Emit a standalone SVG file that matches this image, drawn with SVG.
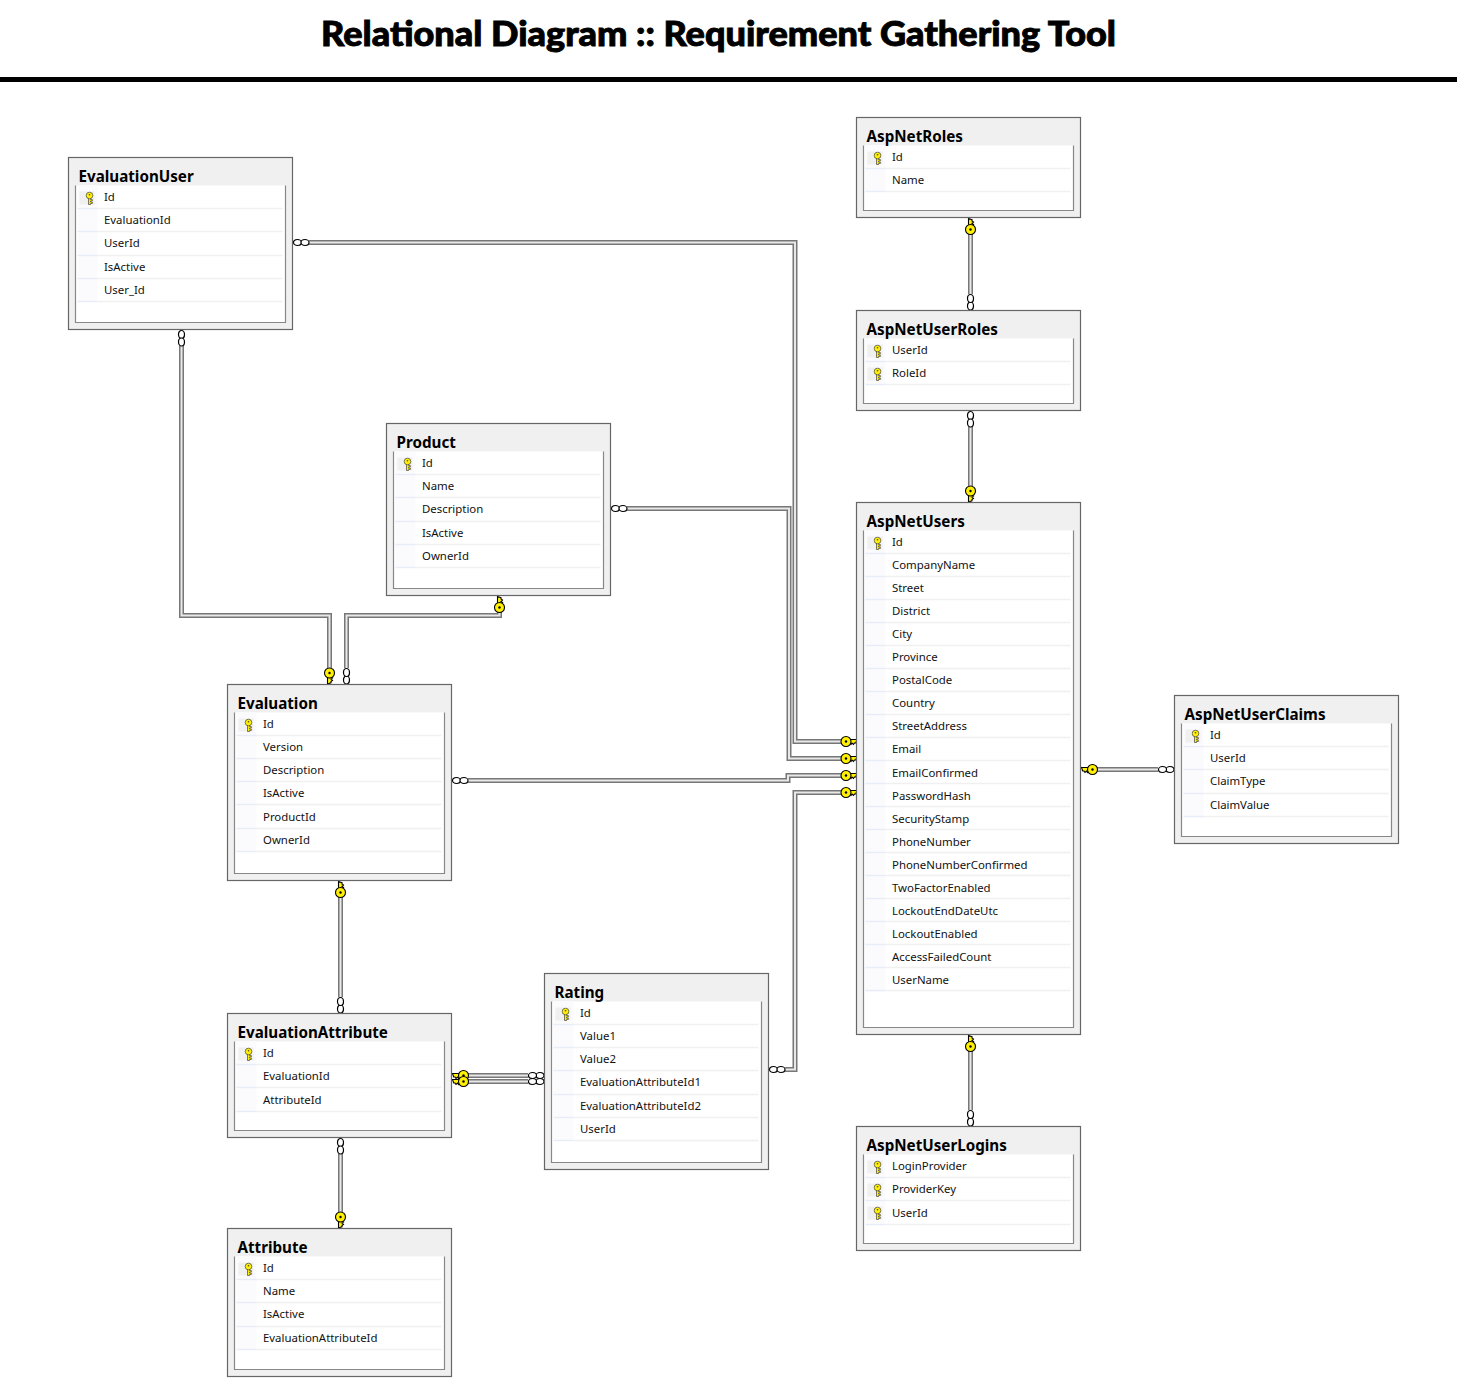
<svg xmlns="http://www.w3.org/2000/svg" width="1457" height="1398" viewBox="0 0 1457 1398">
<style>
.box{fill:#f0f0f0;stroke:#666;stroke-width:1.2}
.inner{fill:#fff;stroke:#888;stroke-width:1.2}
.ic{fill:#fbfbfe}
.sl{stroke:#e6edf8;stroke-width:1.5;fill:none}
.sr{stroke:#f0f0f0;stroke-width:1.5;fill:none}
.hl{fill:#f0f0f0}
.n{font:bold 15.2px "Noto Sans","Open Sans",sans-serif;fill:#000;transform:translateY(-1px)}
.c{font:11.4px "Noto Sans","Open Sans",sans-serif;fill:#111;transform:translateY(-1px)}
.t{font:900 34px Lato,"Noto Sans",sans-serif;fill:#000;stroke:#000;stroke-width:.9}
.o{fill:none;stroke:#777;stroke-width:5}
.m{fill:none;stroke:#e8e8e8;stroke-width:2}
.k{fill:#ffef00;stroke:#000;stroke-width:1.1}
.kp{fill:#ffef00;stroke:#444;stroke-width:.7}
.e{fill:#fff;stroke:#000;stroke-width:1.2}
</style>
<defs>
<g id="pk"><path d="M-1-1V6H1V5H2.800V3.500H1V2.500H2.800V1H1V-1Z" class="kp"/><circle cx="0" cy="-3" r="3.300" class="kp"/><circle cx="0" cy="-3.800" r=".8" fill="#444"/></g>
<g id="key"><path d="M-7-2H0L-1.200 1.500H-2.500L-3.500 3L-5 1.500L-6 3L-7 1.500Z" class="k"/><circle cx="-11" cy="0" r="5" class="k"/><circle cx="-11" cy="0" r="1.200" fill="#000"/></g>
<g id="inf"><ellipse cx="-4" cy="0" rx="4" ry="3" class="e"/><ellipse cx="-11.500" cy="0" rx="4" ry="3" class="e"/></g>
<path id="p1" d="M309 242.500H795V741.500H846"/>
<path id="p2" d="M627 508.500H789V758.500H846"/>
<path id="p3" d="M468 780.500H788V775.500H846"/>
<path id="p4" d="M785 1069.500H795V792.500H846"/>
<path id="p5" d="M181.500 346V615.500H329.500V670"/>
<path id="p6" d="M499.500 607V615.500H346.500V668"/>
<path id="p7" d="M340.500 895V997"/>
<path id="p8" d="M340.500 1154V1215"/>
<path id="p9" d="M465 1075.500H528"/>
<path id="p10" d="M465 1081.500H528"/>
<path id="p11" d="M970.500 232V294"/>
<path id="p12" d="M970.500 427V489"/>
<path id="p13" d="M970.500 1049V1110"/>
<path id="p14" d="M1095 769.500H1158"/>
</defs>
<rect width="1457" height="1398" fill="#fff"/>
<text class="t" x="321" y="46" textLength="795" lengthAdjust="spacingAndGlyphs">Relational Diagram :: Requirement Gathering Tool</text>
<rect x="0" y="77" width="1457" height="5" fill="#000"/>

<g id="connectors">
<use href="#p1" class="o"/><use href="#p1" class="m"/>
<use href="#p2" class="o"/><use href="#p2" class="m"/>
<use href="#p3" class="o"/><use href="#p3" class="m"/>
<use href="#p4" class="o"/><use href="#p4" class="m"/>
<use href="#p5" class="o"/><use href="#p5" class="m"/>
<use href="#p6" class="o"/><use href="#p6" class="m"/>
<use href="#p7" class="o"/><use href="#p7" class="m"/>
<use href="#p8" class="o"/><use href="#p8" class="m"/>
<use href="#p9" class="o"/><use href="#p9" class="m"/>
<use href="#p10" class="o"/><use href="#p10" class="m"/>
<use href="#p11" class="o"/><use href="#p11" class="m"/>
<use href="#p12" class="o"/><use href="#p12" class="m"/>
<use href="#p13" class="o"/><use href="#p13" class="m"/>
<use href="#p14" class="o"/><use href="#p14" class="m"/>
<use href="#inf" transform="translate(293.500,242.500) scale(-1,1)"/>
<use href="#key" transform="translate(857,741.500)"/>
<use href="#inf" transform="translate(611.500,508.500) scale(-1,1)"/>
<use href="#key" transform="translate(857,758.500)"/>
<use href="#inf" transform="translate(452.500,780.500) scale(-1,1)"/>
<use href="#key" transform="translate(857,775.500)"/>
<use href="#inf" transform="translate(769.500,1069.500) scale(-1,1)"/>
<use href="#key" transform="translate(857,792.500)"/>
<use href="#inf" transform="translate(181.500,330.500) rotate(-90)"/>
<use href="#key" transform="translate(329.500,684) rotate(90) scale(1,-1)"/>
<use href="#key" transform="translate(499.500,596.500) rotate(-90)"/>
<use href="#inf" transform="translate(346.500,684) rotate(90)"/>
<use href="#key" transform="translate(340.500,881.500) rotate(-90)"/>
<use href="#inf" transform="translate(340.500,1013) rotate(90)"/>
<use href="#inf" transform="translate(340.500,1138.500) rotate(-90)"/>
<use href="#key" transform="translate(340.500,1228) rotate(90) scale(1,-1)"/>
<use href="#key" transform="translate(452.500,1075.500) scale(-1,1)"/>
<use href="#key" transform="translate(452.500,1081.500) scale(-1,1)"/>
<use href="#inf" transform="translate(544,1075.500)"/>
<use href="#inf" transform="translate(544,1081.500)"/>
<use href="#key" transform="translate(970.500,218.500) rotate(-90)"/>
<use href="#inf" transform="translate(970.500,310) rotate(90)"/>
<use href="#inf" transform="translate(970.500,411.500) rotate(-90)"/>
<use href="#key" transform="translate(970.500,502) rotate(90) scale(1,-1)"/>
<use href="#key" transform="translate(970.500,1035.500) rotate(-90)"/>
<use href="#inf" transform="translate(970.500,1126) rotate(90)"/>
<use href="#key" transform="translate(1081.500,769.500) scale(-1,1)"/>
<use href="#inf" transform="translate(1174,769.500)"/>
</g>

<g id="EvaluationUser" transform="translate(68.500,157.500)">
<rect class="box" width="224" height="172"/><path class="inner" d="M7 28V165H217V28"/><rect class="ic" x="9" y="28" width="20" height="116"/><rect class="hl" x="11" y="34" width="15" height="13"/>
<path class="sl" d="M9 51H29M9 74H29M9 98H29M9 121H29M9 144H29"/><path class="sr" d="M29 51H214M29 74H214M29 98H214M29 121H214M29 144H214"/>
<use href="#pk" x="21" y="41"/>
<text class="n" x="10" y="25">EvaluationUser</text>
<text class="c" x="35.500" y="44">Id</text><text class="c" x="35.500" y="67">EvaluationId</text><text class="c" x="35.500" y="90">UserId</text><text class="c" x="35.500" y="114">IsActive</text><text class="c" x="35.500" y="137">User_Id</text>
</g>

<g id="Product" transform="translate(386.500,423.500)">
<rect class="box" width="224" height="172"/><path class="inner" d="M7 28V165H217V28"/><rect class="ic" x="9" y="28" width="20" height="116"/><rect class="hl" x="11" y="34" width="15" height="13"/>
<path class="sl" d="M9 51H29M9 74H29M9 98H29M9 121H29M9 144H29"/><path class="sr" d="M29 51H214M29 74H214M29 98H214M29 121H214M29 144H214"/>
<use href="#pk" x="21" y="41"/>
<text class="n" x="10" y="25">Product</text>
<text class="c" x="35.500" y="44">Id</text><text class="c" x="35.500" y="67">Name</text><text class="c" x="35.500" y="90">Description</text><text class="c" x="35.500" y="114">IsActive</text><text class="c" x="35.500" y="137">OwnerId</text>
</g>

<g id="Evaluation" transform="translate(227.500,684.500)">
<rect class="box" width="224" height="196"/><path class="inner" d="M7 28V189H217V28"/><rect class="ic" x="9" y="28" width="20" height="139"/><rect class="hl" x="11" y="34" width="15" height="13"/>
<path class="sl" d="M9 51H29M9 74H29M9 97H29M9 120H29M9 144H29M9 167H29"/><path class="sr" d="M29 51H214M29 74H214M29 97H214M29 120H214M29 144H214M29 167H214"/>
<use href="#pk" x="21" y="41"/>
<text class="n" x="10" y="25">Evaluation</text>
<text class="c" x="35.500" y="44">Id</text><text class="c" x="35.500" y="67">Version</text><text class="c" x="35.500" y="90">Description</text><text class="c" x="35.500" y="113">IsActive</text><text class="c" x="35.500" y="137">ProductId</text><text class="c" x="35.500" y="160">OwnerId</text>
</g>

<g id="EvaluationAttribute" transform="translate(227.500,1013.500)">
<rect class="box" width="224" height="124"/><path class="inner" d="M7 28V117H217V28"/><rect class="ic" x="9" y="28" width="20" height="69"/><rect class="hl" x="11" y="34" width="15" height="13"/>
<path class="sl" d="M9 51H29M9 74H29M9 98H29"/><path class="sr" d="M29 51H214M29 74H214M29 98H214"/>
<use href="#pk" x="21" y="41"/>
<text class="n" x="10" y="25">EvaluationAttribute</text>
<text class="c" x="35.500" y="44">Id</text><text class="c" x="35.500" y="67">EvaluationId</text><text class="c" x="35.500" y="91">AttributeId</text>
</g>

<g id="Attribute" transform="translate(227.500,1228.500)">
<rect class="box" width="224" height="148"/><path class="inner" d="M7 28V141H217V28"/><rect class="ic" x="9" y="28" width="20" height="93"/><rect class="hl" x="11" y="34" width="15" height="13"/>
<path class="sl" d="M9 51H29M9 74H29M9 98H29M9 121H29"/><path class="sr" d="M29 51H214M29 74H214M29 98H214M29 121H214"/>
<use href="#pk" x="21" y="41"/>
<text class="n" x="10" y="25">Attribute</text>
<text class="c" x="35.500" y="44">Id</text><text class="c" x="35.500" y="67">Name</text><text class="c" x="35.500" y="90">IsActive</text><text class="c" x="35.500" y="114">EvaluationAttributeId</text>
</g>

<g id="Rating" transform="translate(544.500,973.500)">
<rect class="box" width="224" height="196"/><path class="inner" d="M7 28V189H217V28"/><rect class="ic" x="9" y="28" width="20" height="139"/><rect class="hl" x="11" y="34" width="15" height="13"/>
<path class="sl" d="M9 51H29M9 74H29M9 97H29M9 121H29M9 144H29M9 167H29"/><path class="sr" d="M29 51H214M29 74H214M29 97H214M29 121H214M29 144H214M29 167H214"/>
<use href="#pk" x="21" y="41"/>
<text class="n" x="10" y="25">Rating</text>
<text class="c" x="35.500" y="44">Id</text><text class="c" x="35.500" y="67">Value1</text><text class="c" x="35.500" y="90">Value2</text><text class="c" x="35.500" y="113">EvaluationAttributeId1</text><text class="c" x="35.500" y="137">EvaluationAttributeId2</text><text class="c" x="35.500" y="160">UserId</text>
</g>

<g id="AspNetRoles" transform="translate(856.500,117.500)">
<rect class="box" width="224" height="100"/><path class="inner" d="M7 28V93H217V28"/><rect class="ic" x="9" y="28" width="20" height="46"/><rect class="hl" x="11" y="34" width="15" height="13"/>
<path class="sl" d="M9 51H29M9 74H29"/><path class="sr" d="M29 51H214M29 74H214"/>
<use href="#pk" x="21" y="41"/>
<text class="n" x="10" y="25">AspNetRoles</text>
<text class="c" x="35.500" y="44">Id</text><text class="c" x="35.500" y="67">Name</text>
</g>

<g id="AspNetUserRoles" transform="translate(856.500,310.500)">
<rect class="box" width="224" height="100"/><path class="inner" d="M7 28V93H217V28"/><rect class="ic" x="9" y="28" width="20" height="46"/><rect class="hl" x="11" y="34" width="15" height="13"/><rect class="hl" x="11" y="57" width="15" height="13"/>
<path class="sl" d="M9 51H29M9 74H29"/><path class="sr" d="M29 51H214M29 74H214"/>
<use href="#pk" x="21" y="41"/><use href="#pk" x="21" y="64"/>
<text class="n" x="10" y="25">AspNetUserRoles</text>
<text class="c" x="35.500" y="44">UserId</text><text class="c" x="35.500" y="67">RoleId</text>
</g>

<g id="AspNetUsers" transform="translate(856.500,502.500)">
<rect class="box" width="224" height="532"/><path class="inner" d="M7 28V525H217V28"/><rect class="ic" x="9" y="28" width="20" height="461"/><rect class="hl" x="11" y="34" width="15" height="13"/>
<path class="sl" d="M9 51H29M9 74H29M9 97H29M9 120H29M9 143H29M9 166H29M9 189H29M9 212H29M9 235H29M9 258H29M9 281H29M9 304H29M9 327H29M9 350H29M9 373H29M9 396H29M9 419H29M9 442H29M9 465H29M9 488H29"/>
<path class="sr" d="M29 51H214M29 74H214M29 97H214M29 120H214M29 143H214M29 166H214M29 189H214M29 212H214M29 235H214M29 258H214M29 281H214M29 304H214M29 327H214M29 350H214M29 373H214M29 396H214M29 419H214M29 442H214M29 465H214M29 488H214"/>
<use href="#pk" x="21" y="41"/>
<text class="n" x="10" y="25">AspNetUsers</text>
<text class="c" x="35.500" y="44">Id</text><text class="c" x="35.500" y="67">CompanyName</text><text class="c" x="35.500" y="90">Street</text><text class="c" x="35.500" y="113">District</text><text class="c" x="35.500" y="136">City</text><text class="c" x="35.500" y="159">Province</text><text class="c" x="35.500" y="182">PostalCode</text><text class="c" x="35.500" y="205">Country</text><text class="c" x="35.500" y="228">StreetAddress</text><text class="c" x="35.500" y="251">Email</text><text class="c" x="35.500" y="275">EmailConfirmed</text><text class="c" x="35.500" y="298">PasswordHash</text><text class="c" x="35.500" y="321">SecurityStamp</text><text class="c" x="35.500" y="344">PhoneNumber</text><text class="c" x="35.500" y="367">PhoneNumberConfirmed</text><text class="c" x="35.500" y="390">TwoFactorEnabled</text><text class="c" x="35.500" y="413">LockoutEndDateUtc</text><text class="c" x="35.500" y="436">LockoutEnabled</text><text class="c" x="35.500" y="459">AccessFailedCount</text><text class="c" x="35.500" y="482">UserName</text>
</g>

<g id="AspNetUserClaims" transform="translate(1174.500,695.500)">
<rect class="box" width="224" height="148"/><path class="inner" d="M7 28V141H217V28"/><rect class="ic" x="9" y="28" width="20" height="93"/><rect class="hl" x="11" y="34" width="15" height="13"/>
<path class="sl" d="M9 51H29M9 74H29M9 98H29M9 121H29"/><path class="sr" d="M29 51H214M29 74H214M29 98H214M29 121H214"/>
<use href="#pk" x="21" y="41"/>
<text class="n" x="10" y="25">AspNetUserClaims</text>
<text class="c" x="35.500" y="44">Id</text><text class="c" x="35.500" y="67">UserId</text><text class="c" x="35.500" y="90">ClaimType</text><text class="c" x="35.500" y="114">ClaimValue</text>
</g>

<g id="AspNetUserLogins" transform="translate(856.500,1126.500)">
<rect class="box" width="224" height="124"/><path class="inner" d="M7 28V117H217V28"/><rect class="ic" x="9" y="28" width="20" height="69"/><rect class="hl" x="11" y="34" width="15" height="13"/><rect class="hl" x="11" y="57" width="15" height="13"/><rect class="hl" x="11" y="80" width="15" height="13"/>
<path class="sl" d="M9 51H29M9 74H29M9 98H29"/><path class="sr" d="M29 51H214M29 74H214M29 98H214"/>
<use href="#pk" x="21" y="41"/><use href="#pk" x="21" y="64"/><use href="#pk" x="21" y="87"/>
<text class="n" x="10" y="25">AspNetUserLogins</text>
<text class="c" x="35.500" y="44">LoginProvider</text><text class="c" x="35.500" y="67">ProviderKey</text><text class="c" x="35.500" y="91">UserId</text>
</g>
</svg>
